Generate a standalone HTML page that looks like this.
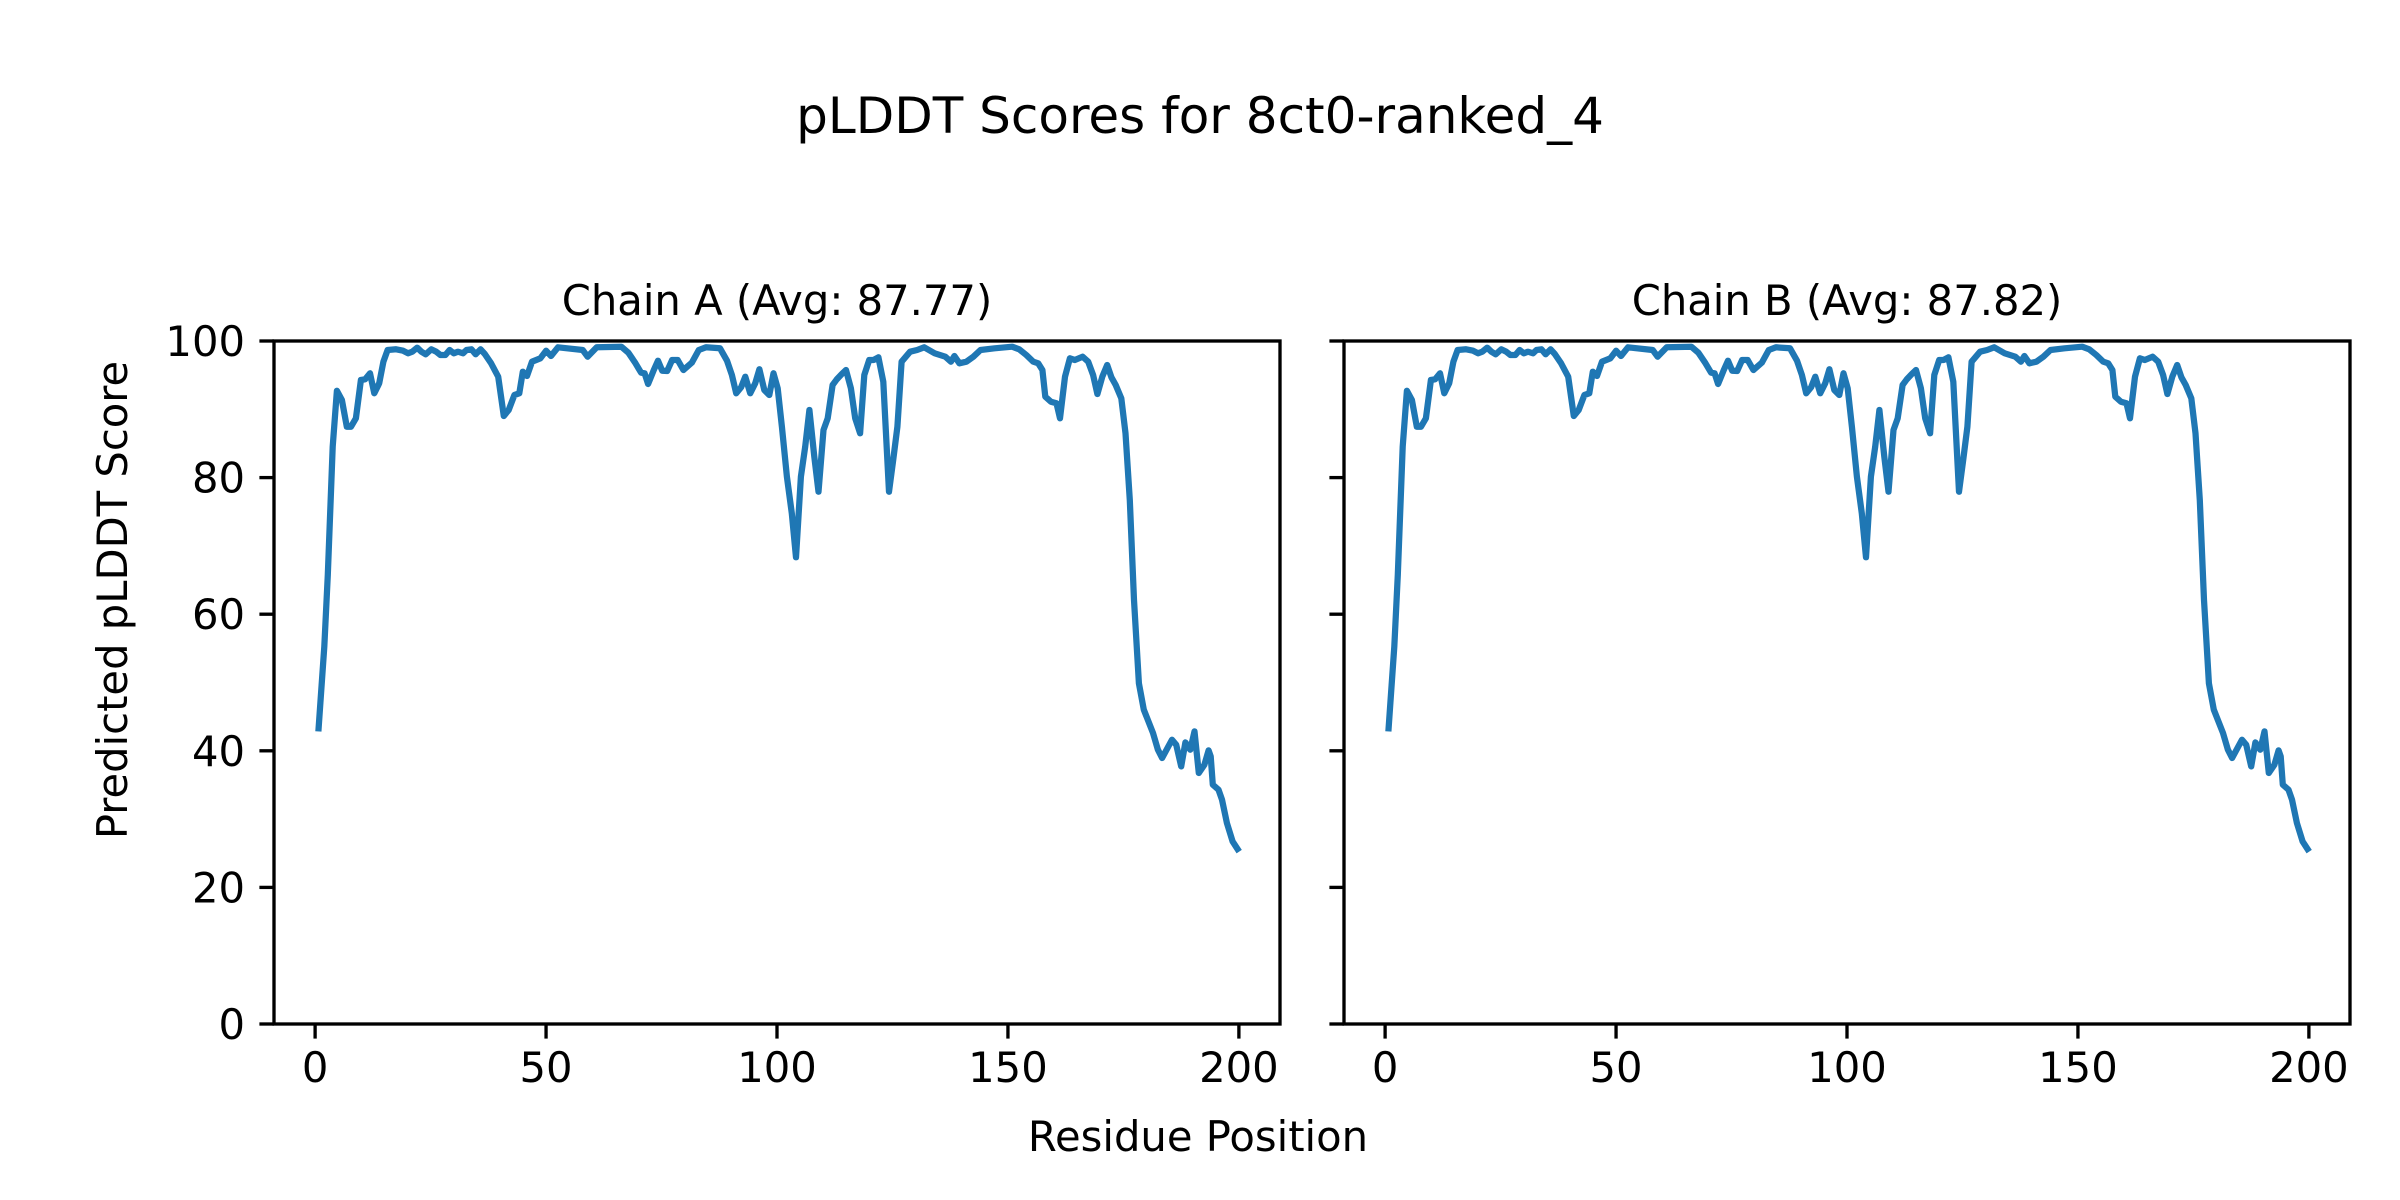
<!DOCTYPE html>
<html><head><meta charset="utf-8"><style>
html,body{margin:0;padding:0;background:#fff;}
svg{display:block;}
text{font-family:"DejaVu Sans","Liberation Sans",sans-serif;fill:#000;}
</style></head><body>
<svg id="s" width="2400" height="1200" viewBox="0 0 2400 1200" xmlns="http://www.w3.org/2000/svg">
<rect width="2400" height="1200" fill="#fff"/>
<text x="1200" y="133" font-size="50" text-anchor="middle">pLDDT Scores for 8ct0-ranked_4</text>
<text x="777" y="315" font-size="41.7" text-anchor="middle">Chain A (Avg: 87.77)</text>
<text x="1847" y="315" font-size="41.7" text-anchor="middle">Chain B (Avg: 87.82)</text>
<text x="1198" y="1151" font-size="41.7" text-anchor="middle">Residue Position</text>
<text transform="translate(127,600) rotate(-90)" font-size="41.7" text-anchor="middle">Predicted pLDDT Score</text>
<g id="g"></g>
</svg>
<script>
(function(){
var g=document.getElementById('g'),NS='http://www.w3.org/2000/svg';
function el(t,a,txt){var e=document.createElementNS(NS,t);for(var k in a)e.setAttribute(k,a[k]);if(txt!==undefined)e.textContent=txt;g.appendChild(e);return e;}
var TOPY=341,BOT=1024,ppv=(BOT-TOPY)/100;
var z1=[[170,1285],[178,1040],[183,825],[190,440],[196,272],[203,300],[210,380],[216,380],[223,355],[230,240],[236,238],[243,220],[249,280],[256,250],[262,185],[268,150],[280,148],[290,152],[297,160],[303,155],[310,143],[316,155],[322,163],[330,148],[337,155],[343,165],[350,165],[356,150],[362,160],[368,155],[375,160],[380,150],[387,148],[393,163],[400,148],[406,162],[415,190],[425,230],[433,348],[440,330],[448,285],[455,280],[460,215],[466,228],[473,185],[485,175],[493,152],[500,168],[510,142],[545,150],[552,170],[565,142],[600,140],[610,158],[620,190],[628,218],[633,220],[638,252],[646,210],[652,182],[658,212],[665,213],[672,180],[680,180],[688,210],[700,188],[710,150],[720,142],[740,145],[750,182],[757,225],[763,280],[770,262],[776,230],[783,280],[790,250],[796,208],[803,270],[810,285],[816,220],[822,265],[828,380],[835,530],[842,640],[848,772],[855,530],[861,440],[867,330],[874,470],[880,575],[887,390],[893,355],[900,255],[906,238],[913,222],[919,210],[926,265],[932,355],[939,400],[945,225],[952,180],[958,180],[965,172],[972,245],[980,575],[986,480],[992,380],[998,185],[1010,155],[1020,150],[1030,142],[1045,160],[1060,170],[1068,185],[1073,168],[1080,190],[1090,185],[1100,170],[1110,150],[1130,145],[1155,140],[1165,148],[1175,165],[1185,185],[1192,190],[1198,210],[1202,290],[1210,305],[1218,310],[1223,355],[1230,230],[1237,175],[1244,180],[1255,170],[1263,185],[1270,225],[1276,282],[1283,230],[1290,195],[1296,232],[1302,255],[1310,295],[1316,400],[1322,600],[1328,900],[1335,1150]];
var z2=[[1342,330],[1355,400],[1362,450],[1368,475],[1382,420],[1388,435],[1395,500],[1401,428],[1408,450],[1414,395],[1420,520],[1428,495],[1434,452],[1437,470],[1440,555],[1448,570],[1453,600],[1460,670],[1468,725],[1475,748]];
var pts=[];
z1.forEach(function(p){pts.push([(p[0]-165)/6.56,100-(p[1]/3-41)/6.83]);});
z2.forEach(function(p){pts.push([(p[0]-165)/6.56,(1024.3-(p[1]/3+600))/6.83]);});
function panel(L,R,labels){
  var W=R-L,x0=-8.9,x1=208.9,sx=W/(x1-x0);
  function X(v){return L+(v-x0)*sx;}
  function Y(v){return BOT-v*ppv;}
  var d=pts.map(function(p,i){return (i?'L':'M')+X(p[0]).toFixed(1)+' '+Y(p[1]).toFixed(1);}).join(' ');
  el('path',{d:d,fill:'none',stroke:'#1f77b4','stroke-width':6.25,'stroke-linejoin':'round','stroke-linecap':'square'});
  el('rect',{x:L,y:TOPY,width:W,height:BOT-TOPY,fill:'none',stroke:'#000','stroke-width':3.33});
  [0,50,100,150,200].forEach(function(t){var x=X(t);
    el('line',{x1:x,y1:BOT,x2:x,y2:BOT+14.6,stroke:'#000','stroke-width':3.33});
    el('text',{x:x,y:BOT+58,'font-size':41.7,'text-anchor':'middle'},String(t));});
  [0,20,40,60,80,100].forEach(function(t){var y=Y(t);
    el('line',{x1:L,y1:y,x2:L-14.6,y2:y,stroke:'#000','stroke-width':3.33});
    if(labels)el('text',{x:L-29,y:y+15,'font-size':41.7,'text-anchor':'end'},String(t));});
}
panel(274,1280,true);
panel(1344,2350,false);
})();
</script>
</body></html>
